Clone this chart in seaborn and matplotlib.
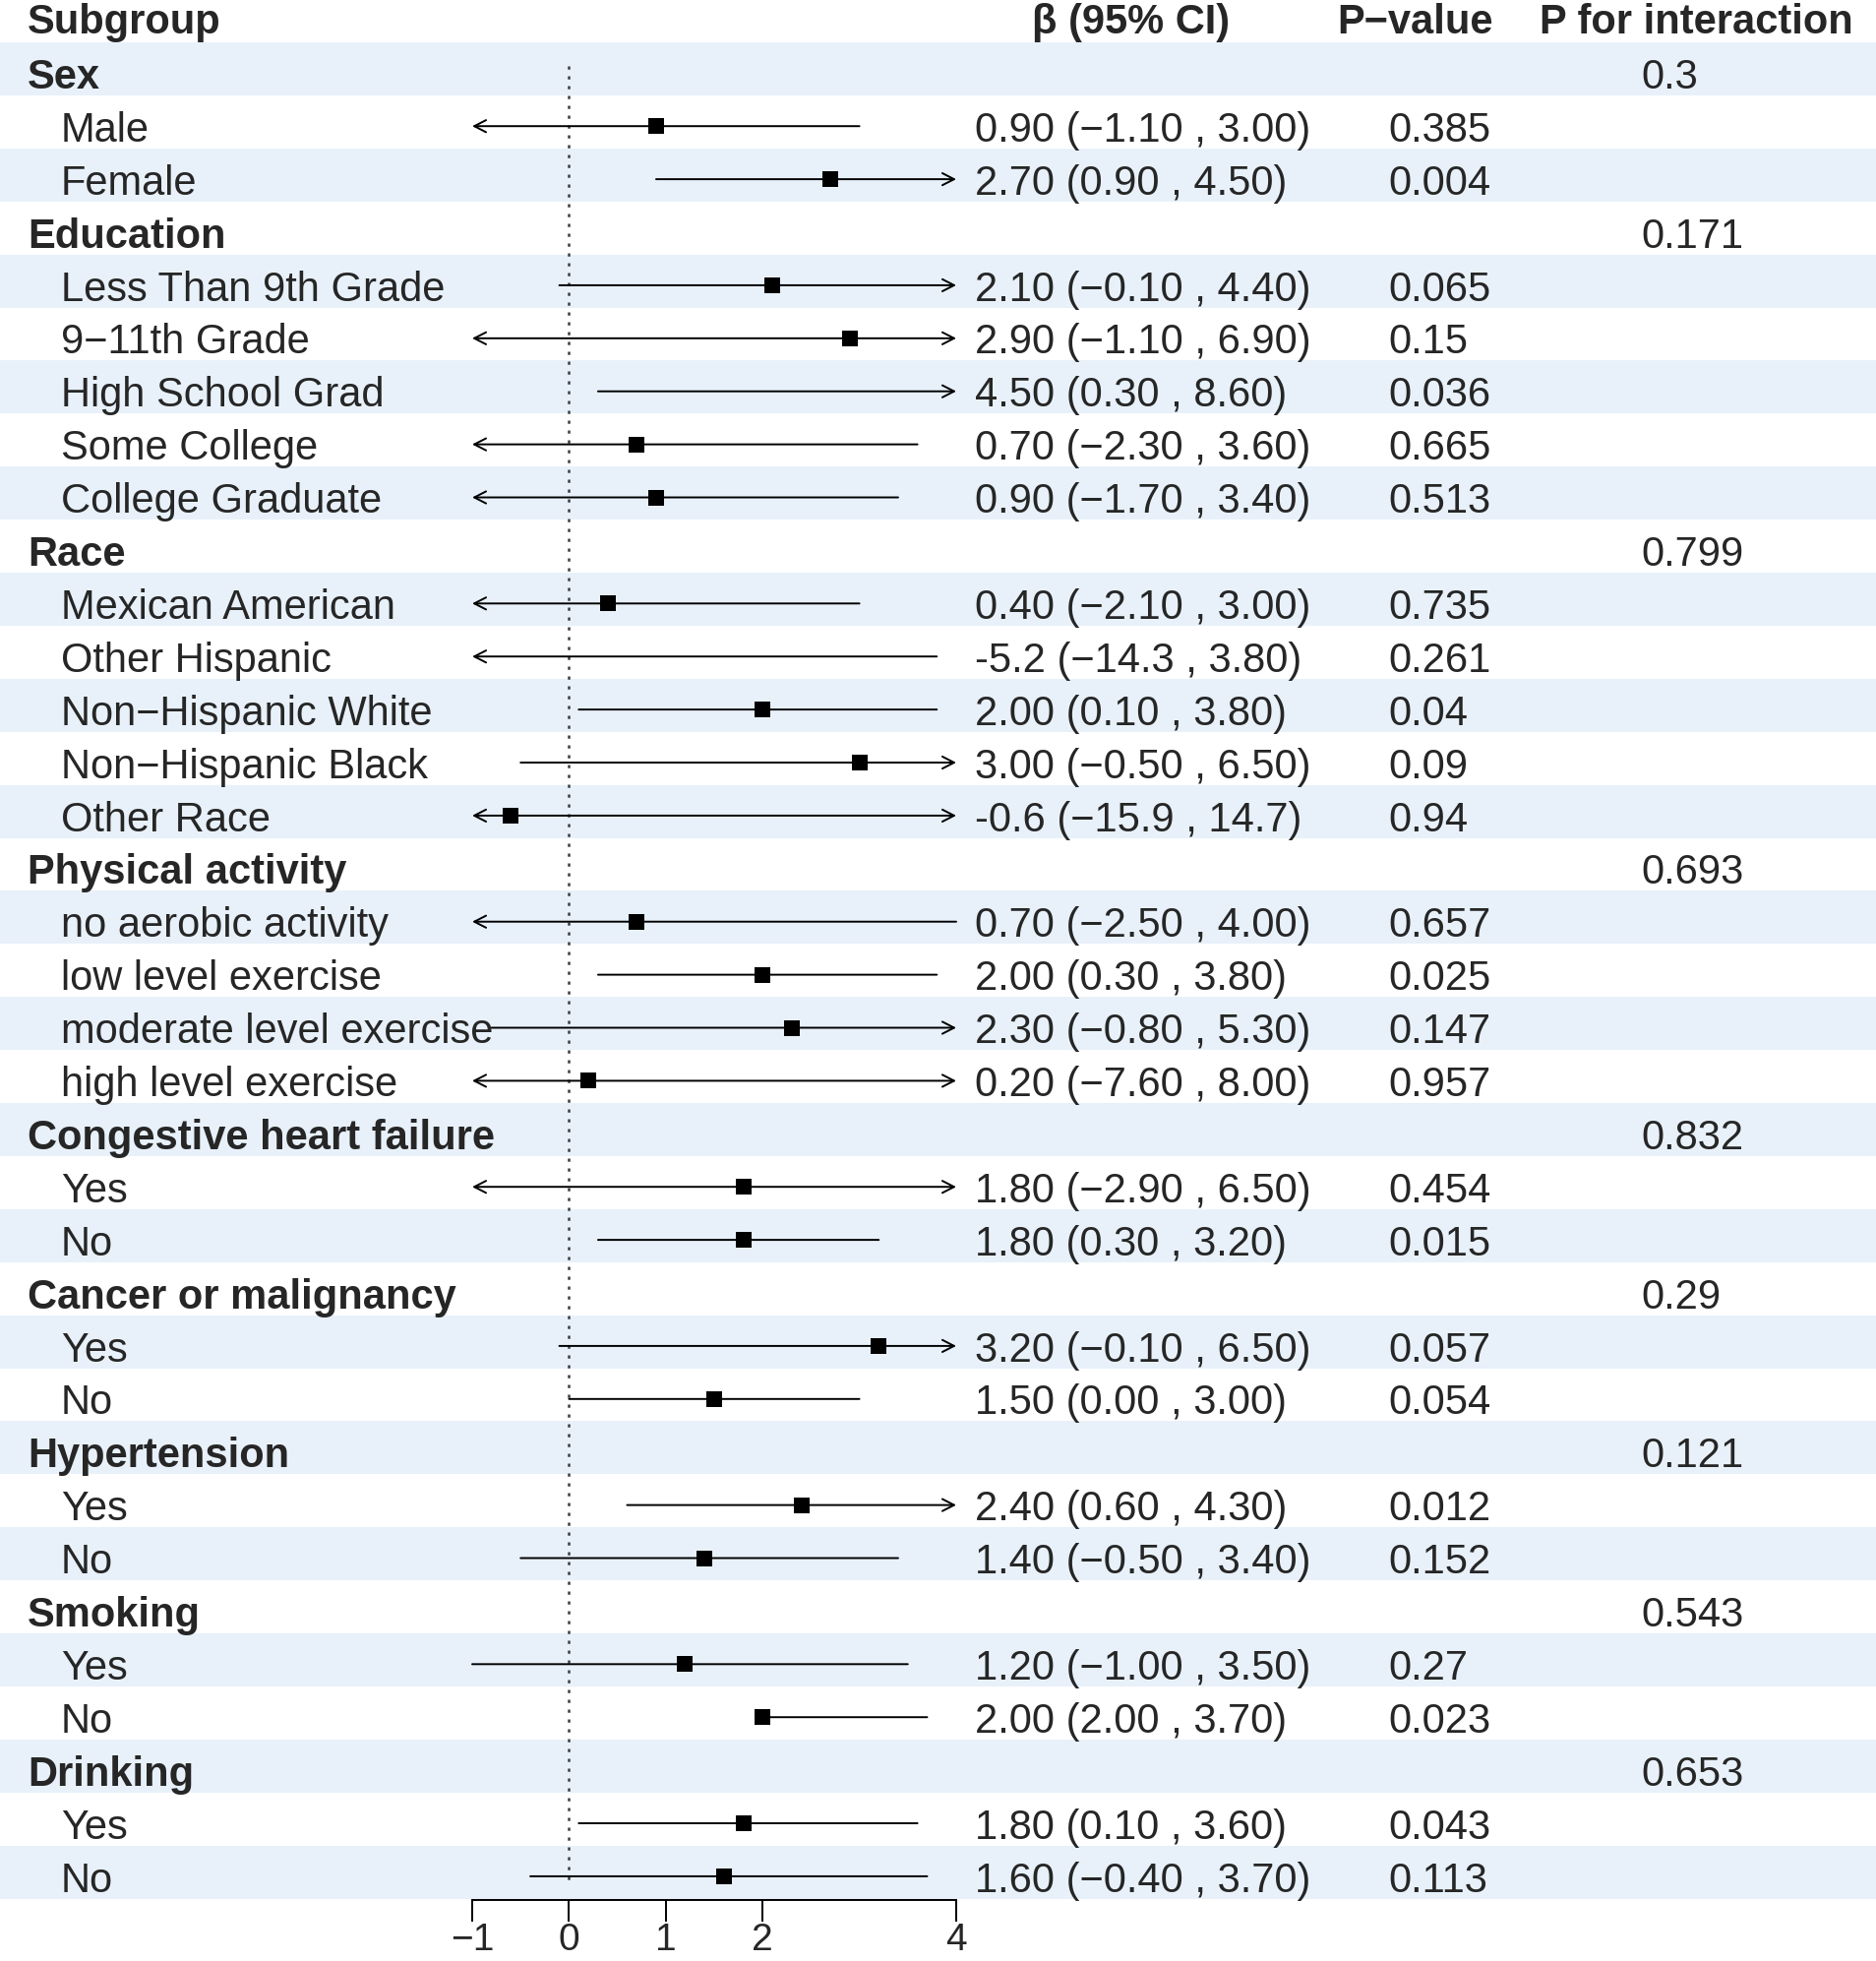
import numpy as np
import pandas as pd
import matplotlib
matplotlib.use("Agg")
import matplotlib.pyplot as plt
import matplotlib.transforms as mtransforms
import seaborn as sns

# ---------------- data ----------------
labels = ["Sex", "Male", "Female",
          "Education", "Less Than 9th Grade", "9\u221211th Grade", "High School Grad",
          "Some College", "College Graduate",
          "Race", "Mexican American", "Other Hispanic", "Non\u2212Hispanic White",
          "Non\u2212Hispanic Black", "Other Race",
          "Physical activity", "no aerobic activity", "low level exercise",
          "moderate level exercise", "high level exercise",
          "Congestive heart failure", "Yes", "No",
          "Cancer or malignancy", "Yes", "No",
          "Hypertension", "Yes", "No",
          "Smoking", "Yes", "No",
          "Drinking", "Yes", "No"]
is_group = [1, 0, 0,
            1, 0, 0, 0, 0, 0,
            1, 0, 0, 0, 0, 0,
            1, 0, 0, 0, 0,
            1, 0, 0,
            1, 0, 0,
            1, 0, 0,
            1, 0, 0,
            1, 0, 0]
nan = np.nan
est = [nan, 0.90, 2.70,
       nan, 2.10, 2.90, 4.50, 0.70, 0.90,
       nan, 0.40, -5.2, 2.00, 3.00, -0.6,
       nan, 0.70, 2.00, 2.30, 0.20,
       nan, 1.80, 1.80,
       nan, 3.20, 1.50,
       nan, 2.40, 1.40,
       nan, 1.20, 2.00,
       nan, 1.80, 1.60]
lower = [nan, -1.10, 0.90,
         nan, -0.10, -1.10, 0.30, -2.30, -1.70,
         nan, -2.10, -14.3, 0.10, -0.50, -15.9,
         nan, -2.50, 0.30, -0.80, -7.60,
         nan, -2.90, 0.30,
         nan, -0.10, 0.00,
         nan, 0.60, -0.50,
         nan, -1.00, 2.00,
         nan, 0.10, -0.40]
upper = [nan, 3.00, 4.50,
         nan, 4.40, 6.90, 8.60, 3.60, 3.40,
         nan, 3.00, 3.80, 3.80, 6.50, 14.7,
         nan, 4.00, 3.80, 5.30, 8.00,
         nan, 6.50, 3.20,
         nan, 6.50, 3.00,
         nan, 4.30, 3.40,
         nan, 3.50, 3.70,
         nan, 3.60, 3.70]
ci_text = ["", "0.90 (\u22121.10 , 3.00)", "2.70 (0.90 , 4.50)",
           "", "2.10 (\u22120.10 , 4.40)", "2.90 (\u22121.10 , 6.90)", "4.50 (0.30 , 8.60)",
           "0.70 (\u22122.30 , 3.60)", "0.90 (\u22121.70 , 3.40)",
           "", "0.40 (\u22122.10 , 3.00)", "-5.2 (\u221214.3 , 3.80)", "2.00 (0.10 , 3.80)",
           "3.00 (\u22120.50 , 6.50)", "-0.6 (\u221215.9 , 14.7)",
           "", "0.70 (\u22122.50 , 4.00)", "2.00 (0.30 , 3.80)", "2.30 (\u22120.80 , 5.30)",
           "0.20 (\u22127.60 , 8.00)",
           "", "1.80 (\u22122.90 , 6.50)", "1.80 (0.30 , 3.20)",
           "", "3.20 (\u22120.10 , 6.50)", "1.50 (0.00 , 3.00)",
           "", "2.40 (0.60 , 4.30)", "1.40 (\u22120.50 , 3.40)",
           "", "1.20 (\u22121.00 , 3.50)", "2.00 (2.00 , 3.70)",
           "", "1.80 (0.10 , 3.60)", "1.60 (\u22120.40 , 3.70)"]
p_value = ["", "0.385", "0.004",
           "", "0.065", "0.15", "0.036", "0.665", "0.513",
           "", "0.735", "0.261", "0.04", "0.09", "0.94",
           "", "0.657", "0.025", "0.147", "0.957",
           "", "0.454", "0.015",
           "", "0.057", "0.054",
           "", "0.012", "0.152",
           "", "0.27", "0.023",
           "", "0.043", "0.113"]
p_interaction = ["0.3", "", "",
                 "0.171", "", "", "", "", "",
                 "0.799", "", "", "", "", "",
                 "0.693", "", "", "", "",
                 "0.832", "", "",
                 "0.29", "", "",
                 "0.121", "", "",
                 "0.543", "", "",
                 "0.653", "", ""]
headers = ["Subgroup", "\u03b2 (95% CI)", "P\u2212value", "P for interaction"]
x_ticks = [-1, 0, 1, 2, 4]
x_ticklabels = ["\u22121", "0", "1", "2", "4"]

df = pd.DataFrame({"label": labels, "group": is_group, "est": est,
                   "lower": lower, "upper": upper})
df["row"] = np.arange(len(df))

# ---------------- layout ----------------
W, H = 1907, 1993
XMIN, XMAX = -1, 4
PX_XMIN, PX_XMAX = 480, 972        # pixel positions of -1 and 4
ROW0, ROWH = 70.0, 53.9            # pixel centre of first row, row height
AX_BOTTOM_PX = 1931

sns.set_theme(style="white")
plt.rcParams["font.family"] = ["Liberation Sans", "DejaVu Sans"]
FS = 30

fig = plt.figure(figsize=(W / 100, H / 100), dpi=100)
ax = fig.add_axes([0, (H - AX_BOTTOM_PX) / H, 1, AX_BOTTOM_PX / H])
ax.set_facecolor("white")

unit = (PX_XMAX - PX_XMIN) / (XMAX - XMIN)
ax.set_xlim(XMIN - PX_XMIN / unit, XMAX + (W - PX_XMAX) / unit)
ax.set_ylim((AX_BOTTOM_PX - ROW0) / ROWH, -ROW0 / ROWH)

def frac(px):
    return px / W

trans = mtransforms.blended_transform_factory(ax.transAxes, ax.transData)

# alternating bands
band_color = "#E8F1FA"
for r in df["row"]:
    if r % 2 == 0:
        ax.axhspan(r - 0.5, r + 0.5, color=band_color, zorder=0, lw=0)

# reference line
ax.plot([0, 0], [-0.06, len(df) - 1 + 0.16], color="#3c3c3c", lw=1.8,
        ls=(0, (1.3, 2.7)), zorder=1)

# CI lines with arrows when clipped
line_off = 0.08
for _, r in df.iterrows():
    if np.isnan(r["lower"]):
        continue
    lo_c = max(r["lower"], XMIN)
    hi_c = min(r["upper"], XMAX)
    left_arrow = r["lower"] < XMIN
    right_arrow = r["upper"] > XMAX
    y = r["row"] + line_off
    if left_arrow and right_arrow:
        style = "<->"
    elif right_arrow:
        style = "->"
    elif left_arrow:
        style = "<-"
    else:
        style = "-"
    ax.annotate("", xy=(hi_c, y), xytext=(lo_c, y),
                arrowprops=dict(arrowstyle=style + (",head_length=0.43,head_width=0.22" if style != "-" else ""),
                                mutation_scale=20, lw=1.4, color="black",
                                shrinkA=0, shrinkB=0),
                zorder=2)

# point estimates (only those inside the axis range)
pts = df[(df["est"] >= XMIN) & (df["est"] <= XMAX)].copy()
pts["y"] = pts["row"] + line_off
sns.scatterplot(data=pts, x="est", y="y", marker="s", s=125, color="black",
                edgecolor="black", linewidth=0, ax=ax, legend=False, zorder=3)

# table text
base_off = 0.37
for _, r in df.iterrows():
    i = int(r["row"])
    y = i + base_off
    if is_group[i]:
        ax.text(frac(28), y, labels[i], transform=trans, fontsize=FS,
                fontweight="bold", va="baseline", ha="left")
    else:
        ax.text(frac(62), y, labels[i], transform=trans, fontsize=FS,
                va="baseline", ha="left")
    if ci_text[i]:
        ax.text(frac(991), y, ci_text[i], transform=trans, fontsize=FS,
                va="baseline", ha="left")
    if p_value[i]:
        ax.text(frac(1411), y, p_value[i], transform=trans, fontsize=FS,
                va="baseline", ha="left")
    if p_interaction[i]:
        ax.text(frac(1668), y, p_interaction[i], transform=trans, fontsize=FS,
                va="baseline", ha="left")

# headers
hy = (19 - ROW0) / ROWH + 14.8 / ROWH
ax.text(frac(28), hy, headers[0], transform=trans, fontsize=FS, fontweight="bold",
        va="baseline", ha="left")
ax.text(frac(1150), hy, headers[1], transform=trans, fontsize=FS, fontweight="bold",
        va="baseline", ha="center")
ax.text(frac(1438), hy, headers[2], transform=trans, fontsize=FS, fontweight="bold",
        va="baseline", ha="center")
ax.text(frac(1724), hy, headers[3], transform=trans, fontsize=FS, fontweight="bold",
        va="baseline", ha="center")

# axis
for s in ["top", "left", "right"]:
    ax.spines[s].set_visible(False)
ax.spines["bottom"].set_visible(True)
ax.spines["bottom"].set_bounds(XMIN, XMAX)
ax.spines["bottom"].set_linewidth(1.4)
ax.spines["bottom"].set_color("black")
ax.set_xticks(x_ticks)
ax.set_xticklabels(x_ticklabels)
ax.tick_params(axis="x", direction="out", length=16, width=1.4, color="black",
               labelsize=28, pad=0.8, bottom=True)
ax.set_yticks([])
ax.set_xlabel("")
ax.set_ylabel("")

fig.savefig("out.png", dpi=100)
